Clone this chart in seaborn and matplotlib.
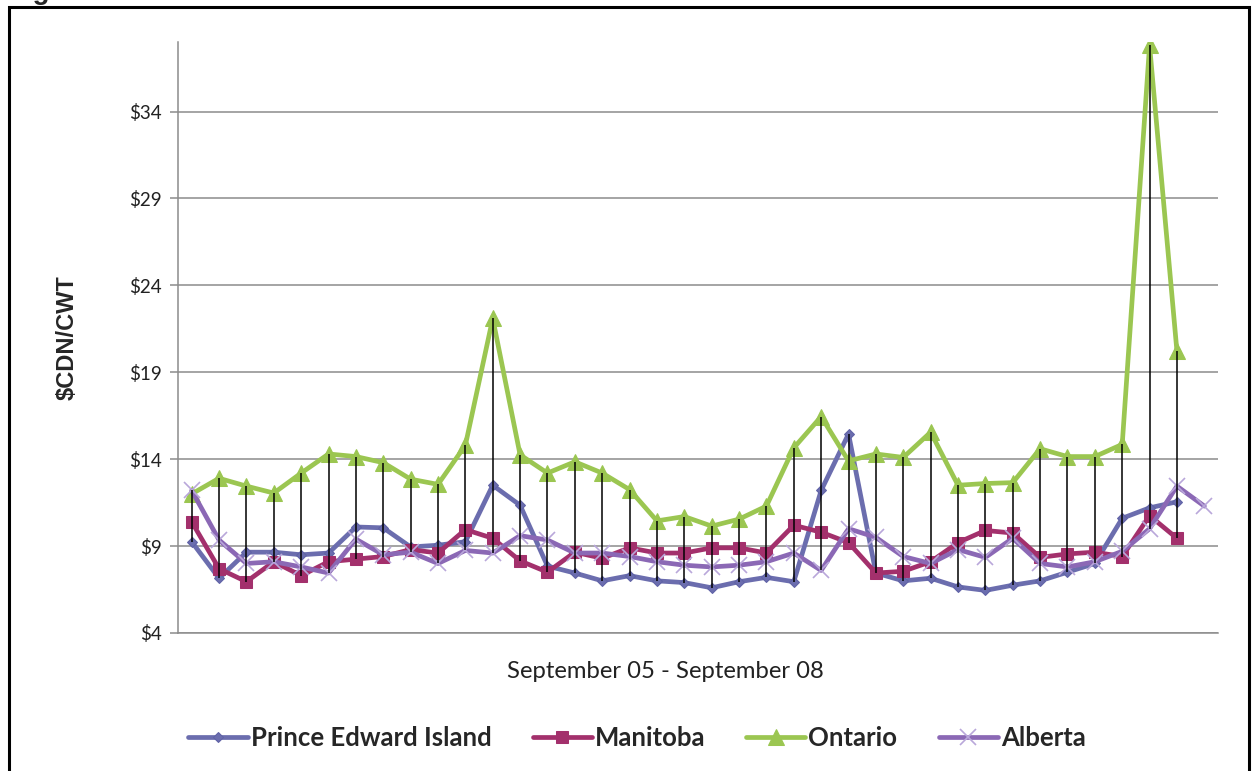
import numpy as np
import pandas as pd
import matplotlib
matplotlib.use("Agg")
import matplotlib.pyplot as plt
from matplotlib.patches import Rectangle
from matplotlib.ticker import FuncFormatter
import seaborn as sns

# Weekly prices, $CDN per hundredweight, September 2005 - September 2008
pei = [9.25, 7.15, 8.65, 8.65, 8.5, 8.6, 10.1, 10.05, 8.95, 9.05, 9.25, 12.5, 11.35,
       7.85, 7.45, 7.0, 7.3, 7.0, 6.9, 6.6, 6.95, 7.2, 6.95, 12.2, 15.45, 7.45, 7.0,
       7.15, 6.65, 6.45, 6.75, 7.0, 7.5, 8.0, 10.6, 11.2, 11.55]
manitoba = [10.4, 7.7, 6.95, 8.1, 7.3, 8.1, 8.25, 8.4, 8.8, 8.6, 9.95, 9.45, 8.15,
            7.5, 8.65, 8.3, 8.9, 8.6, 8.6, 8.9, 8.9, 8.6, 10.2, 9.8, 9.2, 7.45, 7.55,
            8.1, 9.2, 9.9, 9.75, 8.35, 8.55, 8.65, 8.4, 10.75, 9.45]
ontario = [12.0, 12.9, 12.45, 12.05, 13.2, 14.3, 14.15, 13.8, 12.85, 12.55, 14.8, 22.1,
           14.25, 13.2, 13.85, 13.2, 12.25, 10.45, 10.7, 10.15, 10.55, 11.3, 14.65, 16.45,
           13.9, 14.3, 14.1, 15.55, 12.5, 12.6, 12.65, 14.6, 14.15, 14.15, 14.85, 37.8, 20.2]
alberta = [12.2, 9.35, 8.0, 8.1, 7.8, 7.45, 9.4, 8.5, 8.65, 8.0, 8.75, 8.6, 9.6, 9.35,
           8.6, 8.6, 8.4, 8.1, 7.9, 7.8, 7.9, 8.1, 8.6, 7.6, 10.0, 9.5, 8.4, 8.0, 8.8,
           8.35, 9.45, 8.0, 7.8, 8.1, 8.7, 10.0, 12.45, 11.3]

series_names = ["Prince Edward Island", "Manitoba", "Ontario", "Alberta"]
series_values = [pei, manitoba, ontario, alberta]
y_ticks = [4, 9, 14, 19, 24, 29, 34]

W, H = 1254, 771
fig = plt.figure(figsize=(W / 100, H / 100), dpi=100)
sns.set_style("white")
plt.rcParams["font.family"] = ["Lato", "DejaVu Sans"]

ax = fig.add_axes([178 / W, 1 - 633 / H, (1218 - 178) / W, (633 - 42) / H])

frames = []
for name, vals in zip(series_names, series_values):
    frames.append(pd.DataFrame({"week": np.arange(len(vals)), "price": vals, "region": name}))
df = pd.concat(frames, ignore_index=True)

styles = {
    "Prince Edward Island": dict(color="#6B6DAE", marker="D", markersize=5.5,
                                 markeredgecolor="#5F62A6", markerfacecolor="#6B6DAE"),
    "Manitoba": dict(color="#A3306C", marker="s", markersize=9,
                     markeredgecolor="#A3306C", markerfacecolor="#A3306C"),
    "Ontario": dict(color="#9BC651", marker="^", markersize=11.5,
                    markeredgecolor="#9BC651", markerfacecolor="#9BC651"),
    "Alberta": dict(color="#8B68B5", marker="x", markersize=12,
                    markeredgecolor="#B9A7DA", markeredgewidth=1.2),
}

# High-low lines across all regions for each week
wide = df.pivot(index="week", columns="region", values="price")
hi = wide.max(axis=1)
lo = wide.min(axis=1)
mask = wide.notna().sum(axis=1) > 1
ax.vlines(wide.index[mask], lo[mask], hi[mask], colors="black", linewidth=1.1, zorder=6)

for i, name in enumerate(series_names):
    sub = df[df["region"] == name]
    sns.lineplot(data=sub, x="week", y="price", ax=ax, label=name, linewidth=3.4,
                 zorder=3 + i * 0.1, **styles[name])

ax.set_xlim(-0.5, 37.5)
ax.set_ylim(4, 38)
ax.set_yticks(y_ticks)
ax.yaxis.set_major_formatter(FuncFormatter(lambda v, p: f"${v:.0f}"))
ax.set_xticks([])
ax.grid(axis="y", color="#8C8C8C", linewidth=1.1)
ax.set_axisbelow(True)
for s in ("top", "right"):
    ax.spines[s].set_visible(False)
for s in ("left", "bottom"):
    ax.spines[s].set_color("#8C8C8C")
    ax.spines[s].set_linewidth(1.1)
ax.tick_params(axis="y", which="major", direction="out", length=6, width=1.1,
               color="#8C8C8C", labelsize=13.5, labelcolor="#222222", pad=6, left=True)

ax.set_xlabel("September 05 - September 08", fontsize=17.2, color="#222222")
ax.xaxis.set_label_coords((665 - 178) / (1218 - 178), -(661 - 633) / (633 - 42))
ax.set_ylabel("$CDN/CWT", fontsize=17, fontweight="bold", family="Liberation Sans",
              labelpad=36)

ax.legend_.remove()
handles, labels = ax.get_legend_handles_labels()
fig.legend(handles, labels, loc="center", bbox_to_anchor=(637 / W, 1 - 738 / H), ncol=4,
           frameon=False, handlelength=2.3, columnspacing=1.6, handletextpad=0.12,
           prop={"family": "Lato", "weight": "bold", "size": 18.5})

# Chart-area border
fig.add_artist(Rectangle((9 / W, -0.05), (1249 - 9) / W, 1.05 - 7 / H,
                         transform=fig.transFigure, fill=False, edgecolor="black",
                         linewidth=2.2))
fig.text(8 / W, 1 + 1 / H, "Fig", fontsize=20, fontweight="bold",
         family="Liberation Sans", va="baseline", ha="left")

fig.savefig("out.png", dpi=100)
